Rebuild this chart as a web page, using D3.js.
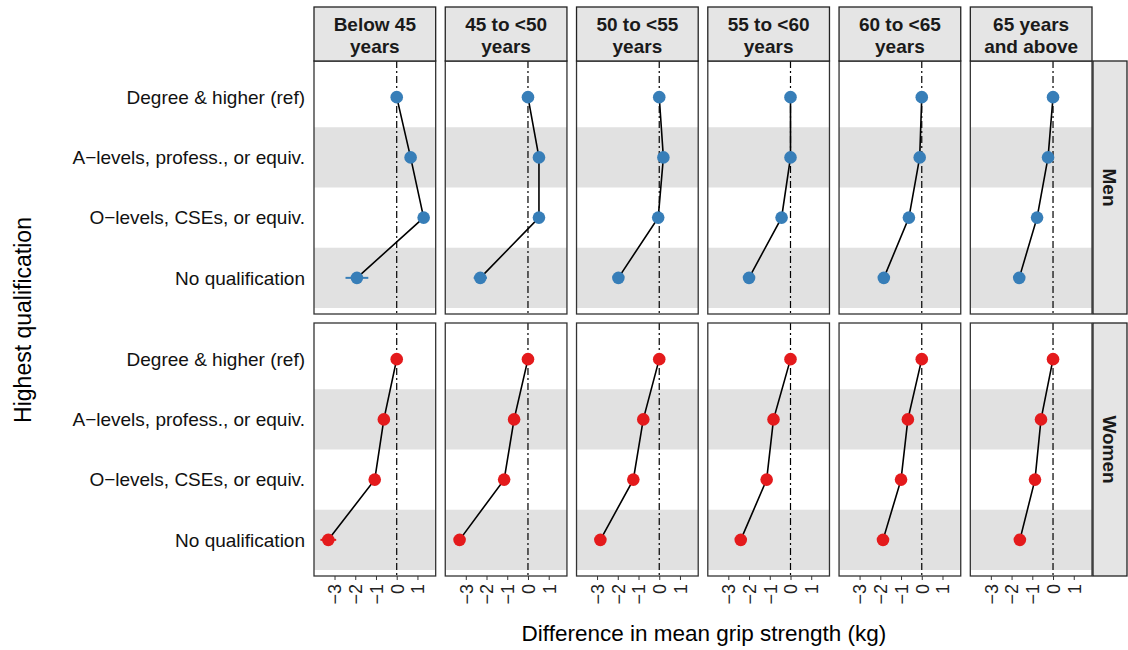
<html>
<head>
<script src="https://d3js.org/d3.v7.min.js"></script>
<style>
body { margin: 0; background: #fff; }
text { font-family: "Liberation Sans", Arial, sans-serif; }
</style>
</head>
<body>
<svg width="1128" height="650"></svg>
<script>
// facets
var ageGroups = [["Below 45", "years"], ["45 to <50", "years"], ["50 to <55", "years"],
                 ["55 to <60", "years"], ["60 to <65", "years"], ["65 years", "and above"]];
var sexes = ["Men", "Women"];
var qualifications = ["Degree & higher (ref)", "A\u2212levels, profess., or equiv.",
                      "O\u2212levels, CSEs, or equiv.", "No qualification"];
var xTicks = [-3, -2, -1, 0, 1];

// difference in grip strength (kg), one row per age group, in qualification order
var menDiff = [[0, 0.67, 1.3, -1.92], [0, 0.53, 0.53, -2.3], [0, 0.2, -0.05, -1.97],
               [0, 0, -0.43, -2.0], [0, -0.1, -0.62, -1.83], [0, -0.24, -0.77, -1.63]];
var menErr = [[0, 0.2, 0.2, 0.55], [0, 0.15, 0.15, 0.32], [0, 0.12, 0.12, 0.2],
              [0, 0.12, 0.12, 0.2], [0, 0.12, 0.12, 0.2], [0, 0.12, 0.12, 0.2]];
var womenDiff = [[0, -0.62, -1.06, -3.3], [0, -0.67, -1.15, -3.3], [0, -0.77, -1.25, -2.84],
                 [0, -0.82, -1.15, -2.4], [0, -0.67, -1.0, -1.87], [0, -0.58, -0.87, -1.6]];
var womenErr = [[0, 0.15, 0.15, 0.38], [0, 0.12, 0.12, 0.25], [0, 0.1, 0.1, 0.2],
                [0, 0.1, 0.1, 0.2], [0, 0.1, 0.1, 0.2], [0, 0.1, 0.1, 0.2]];
var sexColors = ["#377EB8", "#E41A1C"];

var svg = d3.select("svg");

var panelX = d3.scaleBand().domain(d3.range(ageGroups.length)).range([314, 1092]).paddingInner(0.073);
var panelY = [[61, 314], [323, 576]];
var w = panelX.bandwidth();

var x = d3.scaleLinear().domain([-3.99, 1.88]).range([0, w]);

var fmt = function (d) { return d < 0 ? "\u2212" + Math.abs(d) : String(d); };

sexes.forEach(function (sex, si) {
  var top = panelY[si][0], bot = panelY[si][1];
  var y = d3.scalePoint().domain(qualifications).range([0, bot - top]).padding(0.6);
  var step = y.step();
  var diffs = si == 0 ? menDiff : womenDiff;
  var errs = si == 0 ? menErr : womenErr;

  // y labels
  var ylab = svg.append("g").attr("transform", "translate(314," + top + ")");
  ylab.selectAll("text").data(qualifications).enter().append("text")
    .attr("x", -9).attr("y", function (d) { return y(d); }).attr("dy", "0.35em")
    .attr("text-anchor", "end").attr("font-size", 19).attr("fill", "#111")
    .text(function (d) { return d; });

  ageGroups.forEach(function (ag, ai) {
    var g = svg.append("g").attr("transform", "translate(" + panelX(ai) + "," + top + ")");
    var h = bot - top;
    g.append("rect").attr("width", w).attr("height", h).attr("fill", "#fff");
    // alternating bands
    g.selectAll(".band").data(qualifications.filter(function (q, i) { return i % 2 == 1; }))
      .enter().append("rect")
      .attr("x", 0).attr("width", w)
      .attr("y", function (d) { return y(d) - step / 2; }).attr("height", step)
      .attr("fill", "#e1e1e1");
    // reference line
    g.append("line").attr("x1", x(0)).attr("x2", x(0)).attr("y1", 0).attr("y2", h)
      .attr("stroke", "#000").attr("stroke-width", 1.2).attr("stroke-dasharray", "7,3,2,3");

    var pts = qualifications.map(function (q, i) {
      return { q: q, v: diffs[ai][i], e: errs[ai][i] };
    });
    // error bars
    g.selectAll(".err").data(pts).enter().append("line")
      .attr("x1", function (d) { return x(d.v - d.e); })
      .attr("x2", function (d) { return x(d.v + d.e); })
      .attr("y1", function (d) { return y(d.q); }).attr("y2", function (d) { return y(d.q); })
      .attr("stroke", sexColors[si]).attr("stroke-width", 2);
    // connecting line
    g.append("path").datum(pts)
      .attr("d", d3.line().x(function (d) { return x(d.v); }).y(function (d) { return y(d.q); }))
      .attr("fill", "none").attr("stroke", "#000").attr("stroke-width", 1.6);
    // points
    g.selectAll(".pt").data(pts).enter().append("circle")
      .attr("cx", function (d) { return x(d.v); }).attr("cy", function (d) { return y(d.q); })
      .attr("r", 6.3).attr("fill", sexColors[si]);
    // border
    g.append("rect").attr("width", w).attr("height", h)
      .attr("fill", "none").attr("stroke", "#333").attr("stroke-width", 1.3);

    // x axis for bottom row
    if (si == sexes.length - 1) {
      var ax = svg.append("g").attr("transform", "translate(" + panelX(ai) + "," + bot + ")")
        .call(d3.axisBottom(x).tickValues(xTicks).tickFormat(fmt).tickSize(4));
      ax.select(".domain").remove();
      ax.selectAll(".tick line").attr("stroke", "#333");
      ax.selectAll(".tick text")
        .attr("x", -8).attr("y", 0).attr("dy", "0.35em")
        .attr("transform", "rotate(-90)").style("text-anchor", "end")
        .attr("font-size", 18).attr("fill", "#222")
        .style("font-family", "Liberation Sans, Arial, sans-serif");
    }
  });

  // right strip
  var sx = 1093, sw = 34;
  svg.append("rect").attr("x", sx).attr("y", top).attr("width", sw).attr("height", bot - top)
    .attr("fill", "#e5e5e5").attr("stroke", "#222").attr("stroke-width", 1.3);
  svg.append("text").attr("transform", "translate(" + (sx + sw / 2) + "," + ((top + bot) / 2) + ") rotate(90)")
    .attr("text-anchor", "middle").attr("dy", "0.35em")
    .attr("font-size", 19).attr("font-weight", "bold").attr("fill", "#1a1a1a").text(sex);
});

// top strips
ageGroups.forEach(function (ag, ai) {
  svg.append("rect").attr("x", panelX(ai)).attr("y", 7).attr("width", w).attr("height", 54)
    .attr("fill", "#e5e5e5").attr("stroke", "#222").attr("stroke-width", 1.3);
  svg.append("text").attr("x", panelX(ai) + w / 2).attr("y", 31)
    .attr("text-anchor", "middle").attr("font-size", 19).attr("font-weight", "bold").attr("fill", "#1a1a1a")
    .text(ag[0]);
  svg.append("text").attr("x", panelX(ai) + w / 2).attr("y", 53)
    .attr("text-anchor", "middle").attr("font-size", 19).attr("font-weight", "bold").attr("fill", "#1a1a1a")
    .text(ag[1]);
});

// axis titles
svg.append("text").attr("x", 704).attr("y", 641).attr("text-anchor", "middle")
  .attr("font-size", 22.5).attr("fill", "#000").text("Difference in mean grip strength (kg)");
svg.append("text").attr("transform", "translate(31,320) rotate(-90)").attr("text-anchor", "middle")
  .attr("font-size", 23).attr("fill", "#000").text("Highest qualification");
</script>
</body>
</html>
